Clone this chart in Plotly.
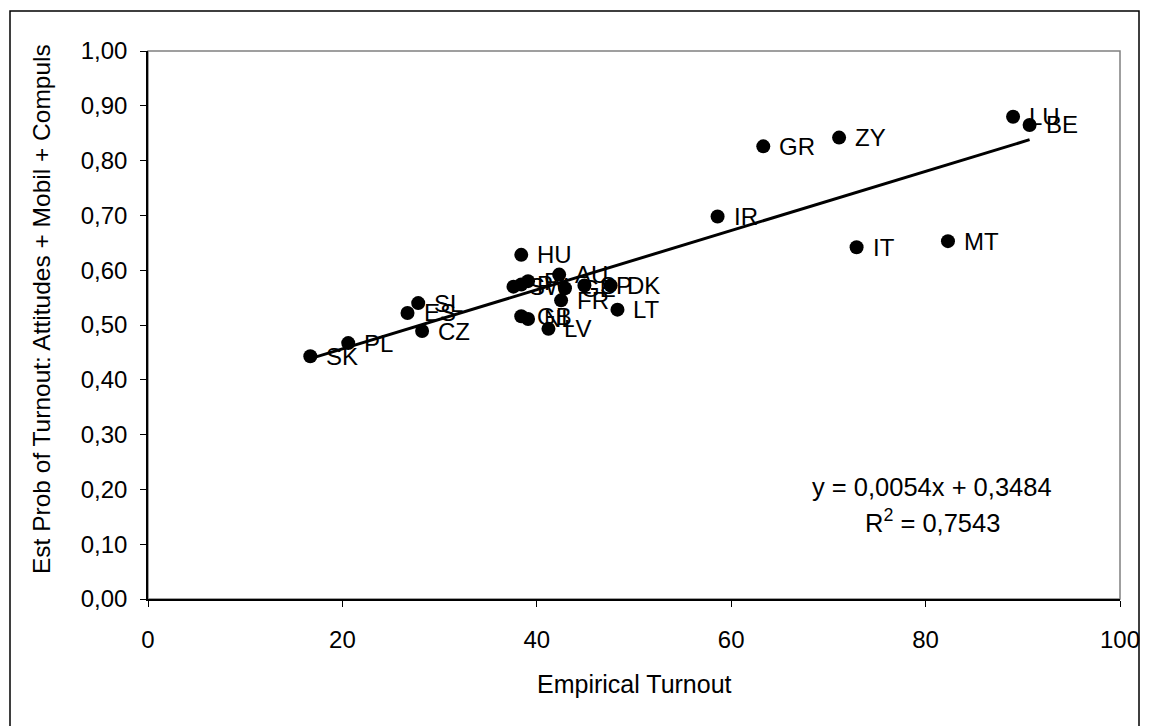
import numpy as np
import plotly.graph_objects as go

# ---- data ----
countries = ["SK", "PL", "ES", "SL", "CZ", "HU", "SW", "P", "FI", "GB", "NL",
             "AU", "GE", "FR", "SP", "DK", "LT", "LV", "IR", "GR", "ZY", "IT",
             "MT", "LU", "BE"]
turnout = [16.7, 20.6, 26.7, 27.8, 28.2, 38.4, 37.6, 38.4, 39.1, 38.4, 39.1,
           42.3, 42.9, 42.5, 44.9, 47.6, 48.3, 41.2, 58.6, 63.3, 71.1, 72.9,
           82.3, 89.0, 90.7]
est_prob = [0.443, 0.467, 0.522, 0.540, 0.489, 0.628, 0.570, 0.574, 0.580,
            0.516, 0.511, 0.592, 0.567, 0.545, 0.572, 0.572, 0.528, 0.493,
            0.698, 0.826, 0.842, 0.642, 0.653, 0.880, 0.865]
slope = 0.0054
intercept = 0.3484
r_squared = 0.7543

x_ticks = [0, 20, 40, 60, 80, 100]
y_ticks = [0.0, 0.1, 0.2, 0.3, 0.4, 0.5, 0.6, 0.7, 0.8, 0.9, 1.0]

x_title = "Empirical Turnout"
y_title = "Est Prob of Turnout: Attitudes + Mobil + Compuls"

FONT = "Liberation Sans, Arial, sans-serif"

W, H = 1149, 726
L, R, T, B = 148, 29, 51, 127

fig = go.Figure()

# trend line
x_line = np.array([min(turnout), max(turnout)])
fig.add_trace(go.Scatter(x=x_line, y=slope * x_line + intercept, mode="lines",
                         line=dict(color="black", width=3), hoverinfo="skip",
                         showlegend=False))

# points
fig.add_trace(go.Scatter(x=turnout, y=est_prob, mode="markers",
                         marker=dict(color="black", size=14),
                         showlegend=False))

# data labels
for c, xv, yv in zip(countries, turnout, est_prob):
    fig.add_annotation(x=xv, y=yv, text=c, showarrow=False, xanchor="left",
                       yanchor="middle", xshift=14,
                       font=dict(family=FONT, size=24, color="black"))

def px_to_paper_x(px):
    return (px - L) / (W - L - R)

def px_to_paper_y(py):
    return (H - B - py) / (H - T - B)

# equation text
fig.add_annotation(xref="paper", yref="paper", x=px_to_paper_x(932), y=px_to_paper_y(487),
                   text="y = 0,%04dx + 0,%04d" % (round(slope * 10000), round(intercept * 10000)),
                   showarrow=False, xanchor="center", yanchor="middle",
                   font=dict(family=FONT, size=25.5, color="black"))
fig.add_annotation(xref="paper", yref="paper", x=px_to_paper_x(932), y=px_to_paper_y(521),
                   text="R<sup>2</sup> = 0,%04d" % round(r_squared * 10000),
                   showarrow=False, xanchor="center", yanchor="middle",
                   font=dict(family=FONT, size=25.5, color="black"))

# axis titles
fig.add_annotation(xref="paper", yref="paper", x=px_to_paper_x(634), y=px_to_paper_y(684),
                   text=x_title, showarrow=False, xanchor="center", yanchor="middle",
                   font=dict(family=FONT, size=25, color="black"))
fig.add_annotation(xref="paper", yref="paper", x=px_to_paper_x(41), y=px_to_paper_y(309),
                   text=y_title, showarrow=False, xanchor="center", yanchor="middle",
                   textangle=-90, font=dict(family=FONT, size=24.5, color="black"))

# plot area border (gray) and outer chart frame
fig.add_shape(type="rect", xref="paper", yref="paper", x0=0, x1=1, y0=0, y1=1,
              line=dict(color="#808080", width=1.5), layer="below")
fig.add_shape(type="rect", xref="paper", yref="paper",
              x0=px_to_paper_x(10), x1=px_to_paper_x(1139),
              y0=px_to_paper_y(727), y1=px_to_paper_y(11),
              line=dict(color="black", width=1.5), layer="below")

fig.update_layout(
    width=W, height=H,
    margin=dict(l=L, r=R, t=T, b=B),
    paper_bgcolor="white", plot_bgcolor="white",
    separators=", ",
    font=dict(family=FONT, size=24, color="black"),
    xaxis=dict(range=[0, 100], tickvals=x_ticks, showgrid=False, zeroline=False,
               showline=True, linecolor="black", linewidth=1.5,
               ticks="outside", ticklen=6, tickcolor="black",
               tickfont=dict(size=24), ticklabelstandoff=12,
               automargin=False),
    yaxis=dict(range=[0, 1], tickvals=y_ticks, tickformat=".2f", showgrid=False,
               zeroline=False, showline=True, linecolor="black", linewidth=1.5,
               ticks="outside", ticklen=6, tickcolor="black",
               tickfont=dict(size=24), ticklabelstandoff=8,
               automargin=False),
)

fig.write_html("out.html")
